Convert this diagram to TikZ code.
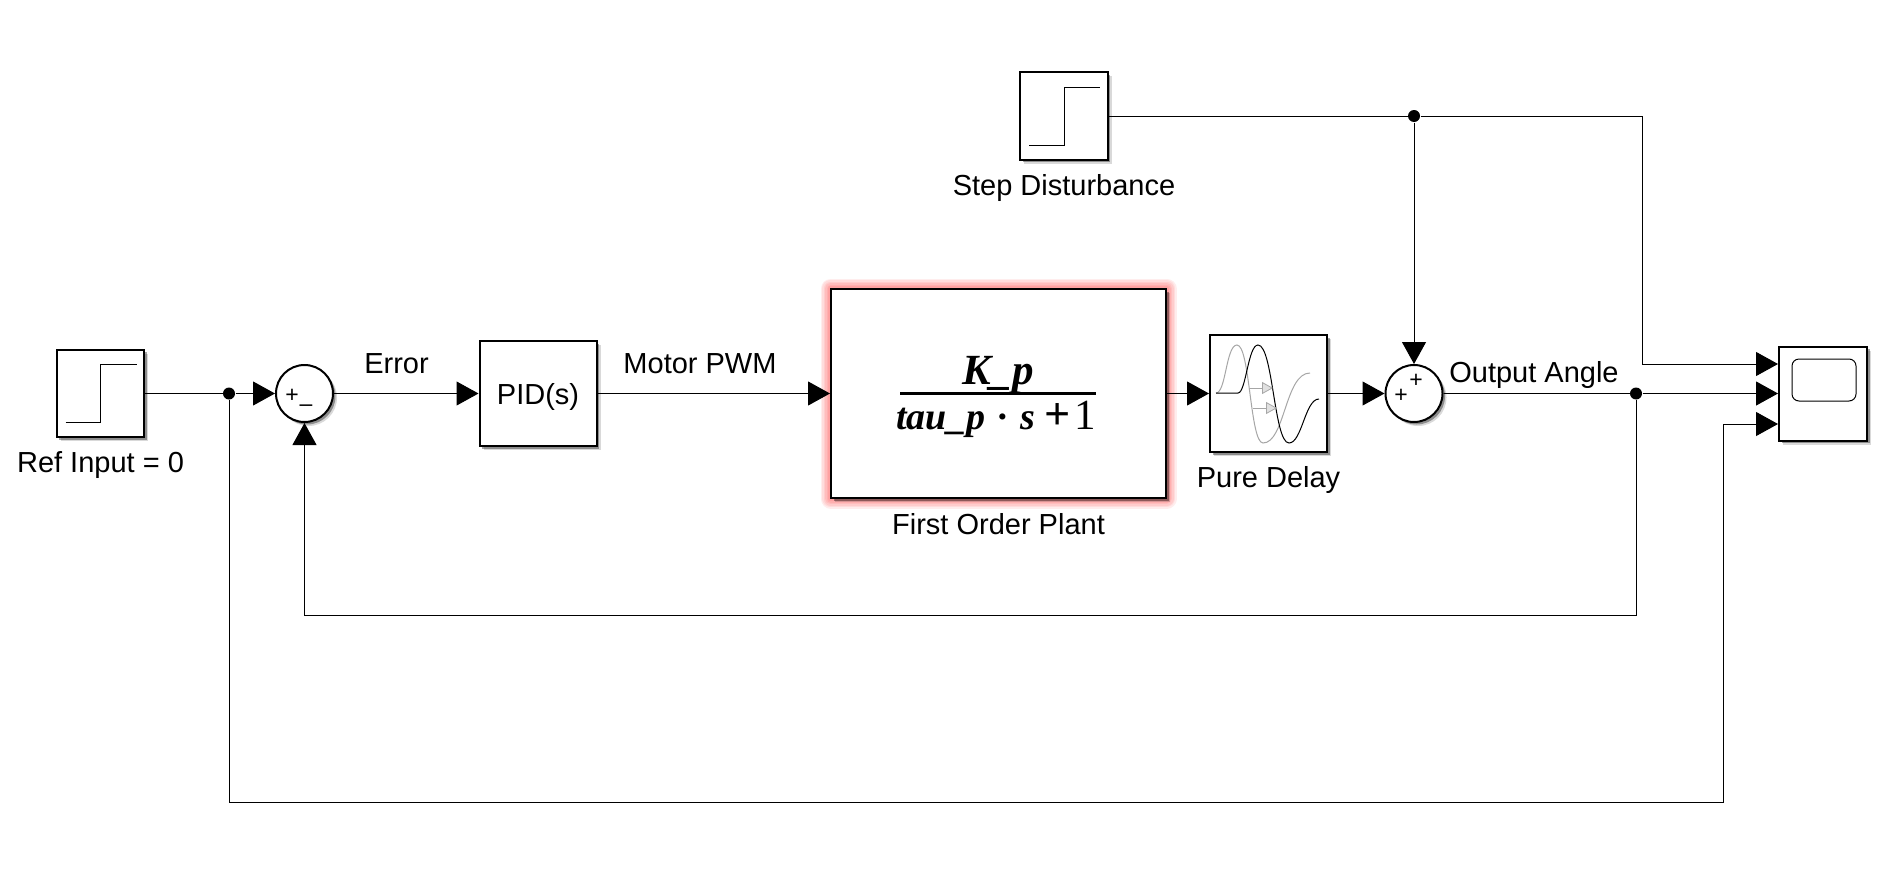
\documentclass[tikz,border=0pt]{standalone}
\usepackage{fontspec}
\setmainfont{Liberation Sans}
\newfontfamily\planfont{Liberation Serif}
\usetikzlibrary{arrows.meta,positioning,shadows}

\begin{document}
\begin{tikzpicture}[x=1pt,y=-1pt,line width=1pt,node distance=6pt,
    signal/.style={-{Triangle[length=22pt,width=24pt]}}]
    \tikzstyle{block}=[draw=black,line width=2pt,fill=white,inner sep=0pt,
        drop shadow={shadow xshift=4pt,shadow yshift=-4pt,fill=black,opacity=.15},
        drop shadow={shadow xshift=2.5pt,shadow yshift=-2.5pt,fill=black,opacity=.35}]
    \tikzstyle{stepblock}=[block,minimum width=87.5pt,minimum height=87.5pt]
    \tikzstyle{sumblock}=[block,circle,minimum size=57pt]
    \tikzstyle{sign}=[inner sep=0pt,font=\fontsize{23}{23}\selectfont]
    \tikzstyle{lbl}=[inner sep=0pt,font=\fontsize{29}{32}\selectfont]
    \tikzstyle{frac}=[inner sep=0pt,font=\fontsize{43}{46}\selectfont\planfont]
    \tikzstyle{junction}=[circle,fill=black,minimum size=12pt,inner sep=0pt]

    \path[use as bounding box,fill=white] (0,0) rectangle (1882,875);

    % Red glow round the plant
    \foreach \w in {20,17,14,11,8,5}
        \draw[red,opacity=.07,line width=\w pt,line join=round] (830.5,288.5) rectangle (1166.5,498.5);

    % Draw the blocks
    \node[stepblock] (refin) at (100.5,393.5) {};
    \node[stepblock] (dist) at (1064,116) {};
    \node[sumblock] (sum1) at (304.5,393.5) {};
    \node[block,minimum width=117pt,minimum height=105pt,font=\fontsize{29}{32}\selectfont] (pid) at (538,393.5) {\raisebox{-11pt}[0pt][0pt]{PID(s)}};
    \node[block,minimum width=335pt,minimum height=209pt] (plant) at (998.5,393.5) {};
    \node[block,minimum width=117pt,minimum height=117pt] (delay) at (1268.5,393.5) {};
    \node[sumblock] (sum2) at (1414,393.5) {};
    \node[block,minimum width=88pt,minimum height=94pt] (scope) at (1823,393.5) {};

    % Transfer function of the plant
    \node[frac] (plantnum) at (998,375) {\bfseries\itshape K\_p};
    \node[frac] (plantden) at (996,419) {\fontsize{38}{46}\selectfont{\bfseries\itshape tau\_p}\hspace{.3em}{\bfseries ·}\hspace{.3em}{\bfseries\itshape s}\hspace{.25em}{\fontsize{46}{46}\selectfont\bfseries +}\hspace{.08em}{\fontsize{43}{46}\selectfont 1}};
    \draw[line width=3pt] (900,393.5) -- (1096,393.5);

    % Block labels
    \node[lbl,below=13pt of refin] (reflabel) {Ref Input = 0};
    \node[lbl,below=13.5pt of dist] (distlabel) {Step Disturbance};
    \node[lbl,below=14pt of plant] (plantlabel) {First Order Plant};
    \node[lbl,below=13pt of delay] (delaylabel) {Pure Delay};

    % Signal labels
    \node[lbl] (errorlabel) at (396.5,364) {Error};
    \node[lbl] (pwmlabel) at (700,364) {Motor PWM};
    \node[lbl] (anglelabel) at (1534,374.5) {Output Angle};

    % Signs of the sums
    \node[sign] (s1a) at (292,395.5) {+};
    \node[sign] (s1b) at (306,408) {--};
    \node[sign] (s2a) at (1401,396) {+};
    \node[sign] (s2b) at (1416,381) {+};

    % Step glyphs
    \foreach \name in {refin,dist}
        \draw[line width=1pt] ([shift={(-35,29)}]\name.center) -- ++(35,0) -- ++(0,-58) -- ++(36,0);

    % Delay glyph
    \draw[line width=1pt,black!35] (1216,393) .. controls (1226,393) and (1226,345) .. (1237,345)
        .. controls (1250,345) and (1250,443) .. (1263,443) .. controls (1285,443) and (1285,373) .. (1310,373);
    \draw[line width=1pt] (1216,393) -- (1238,393) .. controls (1246,393) and (1248,345) .. (1258,345)
        .. controls (1273,345) and (1274,443) .. (1289,443) .. controls (1302,443) and (1305,399) .. (1319,399);
    \foreach \ya/\xa/\xb in {388/1250/1273,408/1253/1277}
        \draw[line width=.8pt,black!35,-{Triangle[length=11pt,width=12pt,fill=black!12]}] (\xa,\ya) -- (\xb,\ya);

    % Scope screen
    \draw[line width=1pt,rounded corners=7pt] (1792,359) rectangle (1856,401);

    % Junctions and bends
    \node[junction] (refdot) at (229,393.5) {};
    \node[junction] (distdot) at (1414,116) {};
    \node[junction] (outdot) at (1636,393.5) {};
    \coordinate (scopein1) at (1778,364);
    \coordinate (scopein3) at (1778,424);
    \coordinate (bend1) at (1642,116);
    \coordinate (bend2) at (1723,802);
    \coordinate (bend3) at (304.5,615.5);

    % Connect the blocks
    \draw (refin.east) -- (refdot);
    \draw[signal] (refdot) -- (sum1.west);
    \draw[signal] (sum1.east) -- (pid.west);
    \draw[signal] (pid.east) -- (plant.west);
    \draw[signal] (plant.east) -- (delay.west);
    \draw[signal] (delay.east) -- (sum2.west);
    \draw (sum2.east) -- (outdot);
    \draw[signal] (outdot) -- (scope.west);
    \draw (dist.east) -- (distdot);
    \draw[signal] (distdot) -- (sum2.north);
    \draw[signal] (distdot) -- (bend1) |- (scopein1);
    \draw[signal] (outdot) |- (bend3) -- (sum1.south);
    \draw[signal] (refdot) |- (bend2) |- (scopein3);
\end{tikzpicture}
\end{document}
